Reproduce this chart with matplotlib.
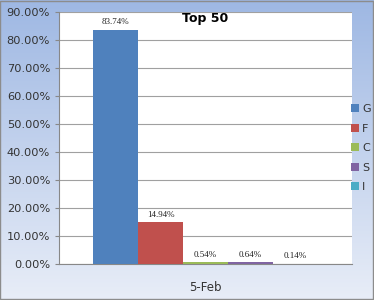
import matplotlib.pyplot as plt
import numpy as np

series = ['G', 'F', 'C', 'S', 'I']
values = [0.8374, 0.1494, 0.0054, 0.0064, 0.0014]
colors = ['#4f81bd', '#c0504d', '#9bbb59', '#8064a2', '#4bacc6']
category = '5-Feb'

fig = plt.figure(figsize=(3.74, 3.0), dpi=100)

# gradient background
bg = fig.add_axes([0, 0, 1, 1], zorder=-1)
top = np.array([0.62, 0.72, 0.89])
bot = np.array([0.91, 0.93, 0.97])
t = np.linspace(0, 1, 200)[:, None]
grad = top * (1 - t) + bot * t
bg.imshow(grad[:, None, :].repeat(2, axis=1), aspect='auto', extent=[0, 1, 0, 1])
bg.add_patch(plt.Rectangle((0.001, 0.002), 0.997, 0.995, fill=False,
                           edgecolor='#8c8c8c', linewidth=1))
bg.set_xlim(0, 1)
bg.set_ylim(0, 1)
bg.axis('off')

ax = fig.add_axes([0.158, 0.12, 0.783, 0.84])
ax.set_facecolor('white')

width = 0.12
offsets = (np.arange(len(series)) - 2) * width
for i, (name, v, c) in enumerate(zip(series, values, colors)):
    ax.bar(offsets[i], v, width, color=c, label=name, zorder=3)
    ax.text(offsets[i], v + 0.012, '{:.2f}%'.format(v * 100), ha='center',
            va='bottom', fontsize=6.5, family='Liberation Serif', color='#222222')

ax.set_xlim(-0.39, 0.39)
ax.set_ylim(0, 0.9)
ax.set_yticks(np.arange(0, 0.91, 0.1))
ax.set_yticklabels(['{:.2f}%'.format(y * 100) for y in np.arange(0, 0.91, 0.1)])
ax.set_xticks([0])
ax.set_xticklabels([category])
ax.yaxis.grid(True, color='#a0a0a0', linewidth=0.8, zorder=0)
ax.tick_params(axis='y', labelsize=8.2, length=3, color='#888888', labelcolor='#333333')
ax.tick_params(axis='x', labelsize=8.5, length=0, pad=12, labelcolor='#333333')
for s in ['top', 'right']:
    ax.spines[s].set_visible(False)
for s in ['left', 'bottom']:
    ax.spines[s].set_color('#888888')

ax.text(0.0, 0.9, 'Top 50', transform=ax.transData, ha='center', va='top',
        fontsize=9, fontweight='bold')

ax.legend(loc='center left', bbox_to_anchor=(0.998, 0.46), frameon=False,
          handlelength=0.7, handleheight=0.7, handletextpad=0.25,
          labelspacing=0.85, fontsize=8, borderaxespad=0, borderpad=0,
          labelcolor='#333333')

fig.savefig('out.png', dpi=100)
